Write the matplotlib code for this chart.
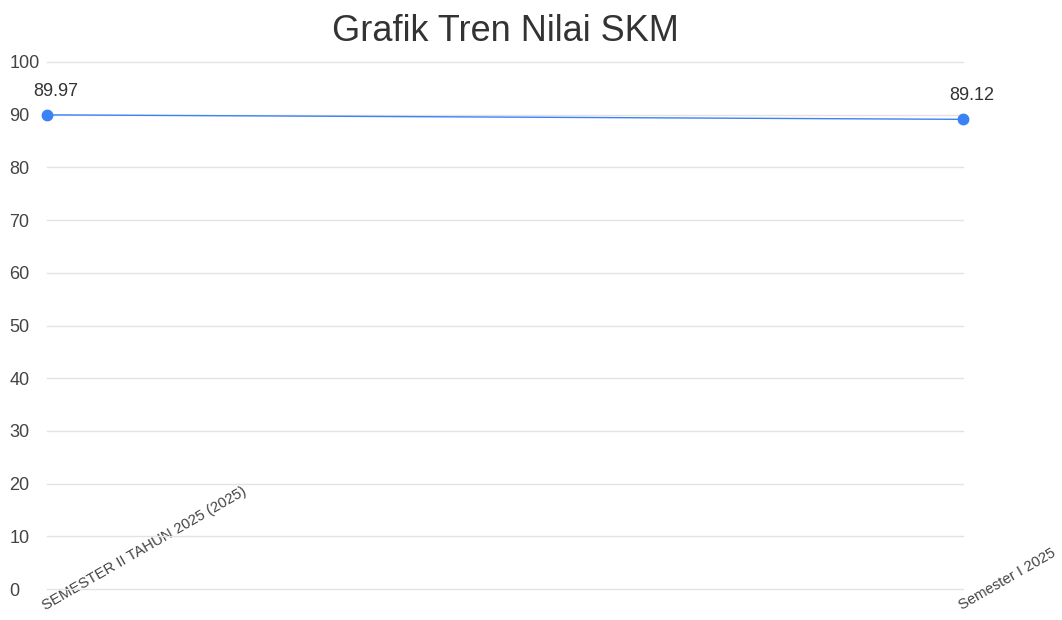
import matplotlib
matplotlib.use("Agg")
import matplotlib.pyplot as plt

# data
periods = ["SEMESTER II TAHUN 2025 (2025)", "Semester I 2025"]
skm_values = [89.97, 89.12]
y_ticks = [0, 10, 20, 30, 40, 50, 60, 70, 80, 90, 100]

plt.rcParams['font.family'] = ['Liberation Sans', 'DejaVu Sans']

fig = plt.figure(figsize=(10.62, 6.2), dpi=100)
ax = fig.add_axes([47 / 1062, 31 / 620, 916 / 1062, 527 / 620])

x = list(range(len(periods)))
ax.plot(x, skm_values, color='#3b82f6', lw=1.0, marker='o', ms=7.5,
        markerfacecolor='#3b82f6', markeredgecolor='#3b82f6', zorder=3,
        clip_on=False)

for xi, v in zip(x, skm_values):
    ax.annotate("%.2f" % v, (xi, v), xytext=(6, 11), textcoords='offset points',
                ha='center', va='bottom', fontsize=13, color='#333333')

ax.set_xlim(0, len(periods) - 1)
ax.set_ylim(0, 100)
ax.set_yticks(y_ticks)
ax.set_yticklabels([str(t) for t in y_ticks], ha='left')
ax.tick_params(axis='y', length=0, pad=27, labelsize=13, labelcolor='#444444')

ax.set_xticks(x)
ax.set_xticklabels(periods, rotation=30, rotation_mode='anchor',
                   ha='left', va='bottom')
ax.tick_params(axis='x', length=0, pad=17, labelsize=10.7, labelcolor='#444444')

ax.grid(axis='y', color='#e3e3e3', lw=1)
for gl in ax.get_ygridlines():
    gl.set_clip_on(False)
ax.set_axisbelow(True)
for s in ax.spines.values():
    s.set_visible(False)

ax.set_title("Grafik Tren Nilai SKM", fontsize=26, color='#333333', pad=15)

fig.savefig("out.png", dpi=100)
